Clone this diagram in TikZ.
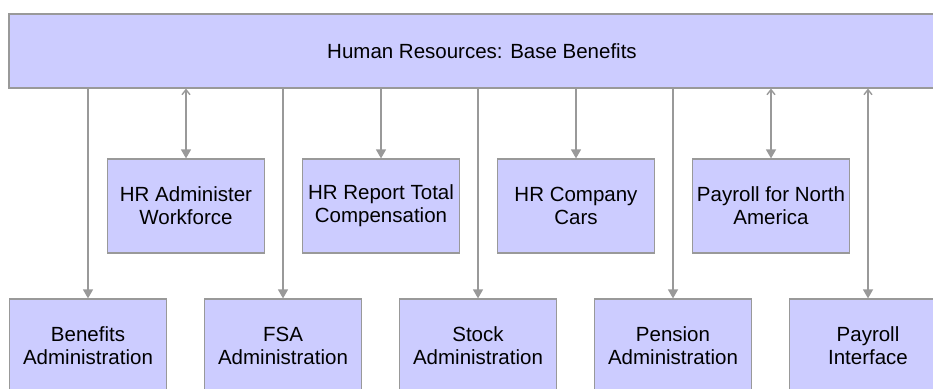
\documentclass[tikz,border=0pt]{standalone}
\usepackage{fontspec}
\setmainfont{Liberation Sans}
\usetikzlibrary{arrows.meta}
\definecolor{boxfill}{HTML}{CCCCFF}
\definecolor{boxline}{HTML}{999999}
\begin{document}
\begin{tikzpicture}[x=1pt,y=-1pt,
    module/.style={draw=boxline,fill=boxfill,line width=1.2pt,minimum width=157pt,
        minimum height=94pt,align=center,font=\fontsize{20.5}{23}\selectfont,inner sep=0pt},
    link/.style={draw=boxline,line width=1.4pt,-{Triangle[length=9pt,width=10pt]}},
    twoway/.style={link,{Straight Barb[length=5pt,width=8pt]}-{Triangle[length=9pt,width=10pt]}}]
    \useasboundingbox (0,0) rectangle (933,388);
    \clip (0,0) rectangle (933,388);
    \node[module,minimum width=946pt,minimum height=74pt] (base) at (482,51) {Human Resources: Base Benefits};
    % middle row
    \node[module] (workforce) at (186,206) {HR Administer\\Workforce};
    \node[module] (totalcomp) at (381,206) {HR Report Total\\Compensation};
    \node[module] (cars) at (576,206) {HR Company\\Cars};
    \node[module] (payna) at (771,206) {Payroll for North\\America};
    % bottom row
    \node[module] (benadmin) at (88,346) {Benefits\\Administration};
    \node[module] (fsa) at (283,346) {FSA\\Administration};
    \node[module] (stock) at (478,346) {Stock\\Administration};
    \node[module] (pension) at (673,346) {Pension\\Administration};
    \node[module] (payiface) at (868,346) {Payroll\\Interface};
    % connectors
    \draw[twoway] (base.south -| workforce.north) -- (workforce.north);
    \draw[link] (base.south -| totalcomp.north) -- (totalcomp.north);
    \draw[link] (base.south -| cars.north) -- (cars.north);
    \draw[twoway] (base.south -| payna.north) -- (payna.north);
    \draw[link] (base.south -| benadmin.north) -- (benadmin.north);
    \draw[link] (base.south -| fsa.north) -- (fsa.north);
    \draw[link] (base.south -| stock.north) -- (stock.north);
    \draw[link] (base.south -| pension.north) -- (pension.north);
    \draw[twoway] (base.south -| payiface.north) -- (payiface.north);
\end{tikzpicture}
\end{document}
